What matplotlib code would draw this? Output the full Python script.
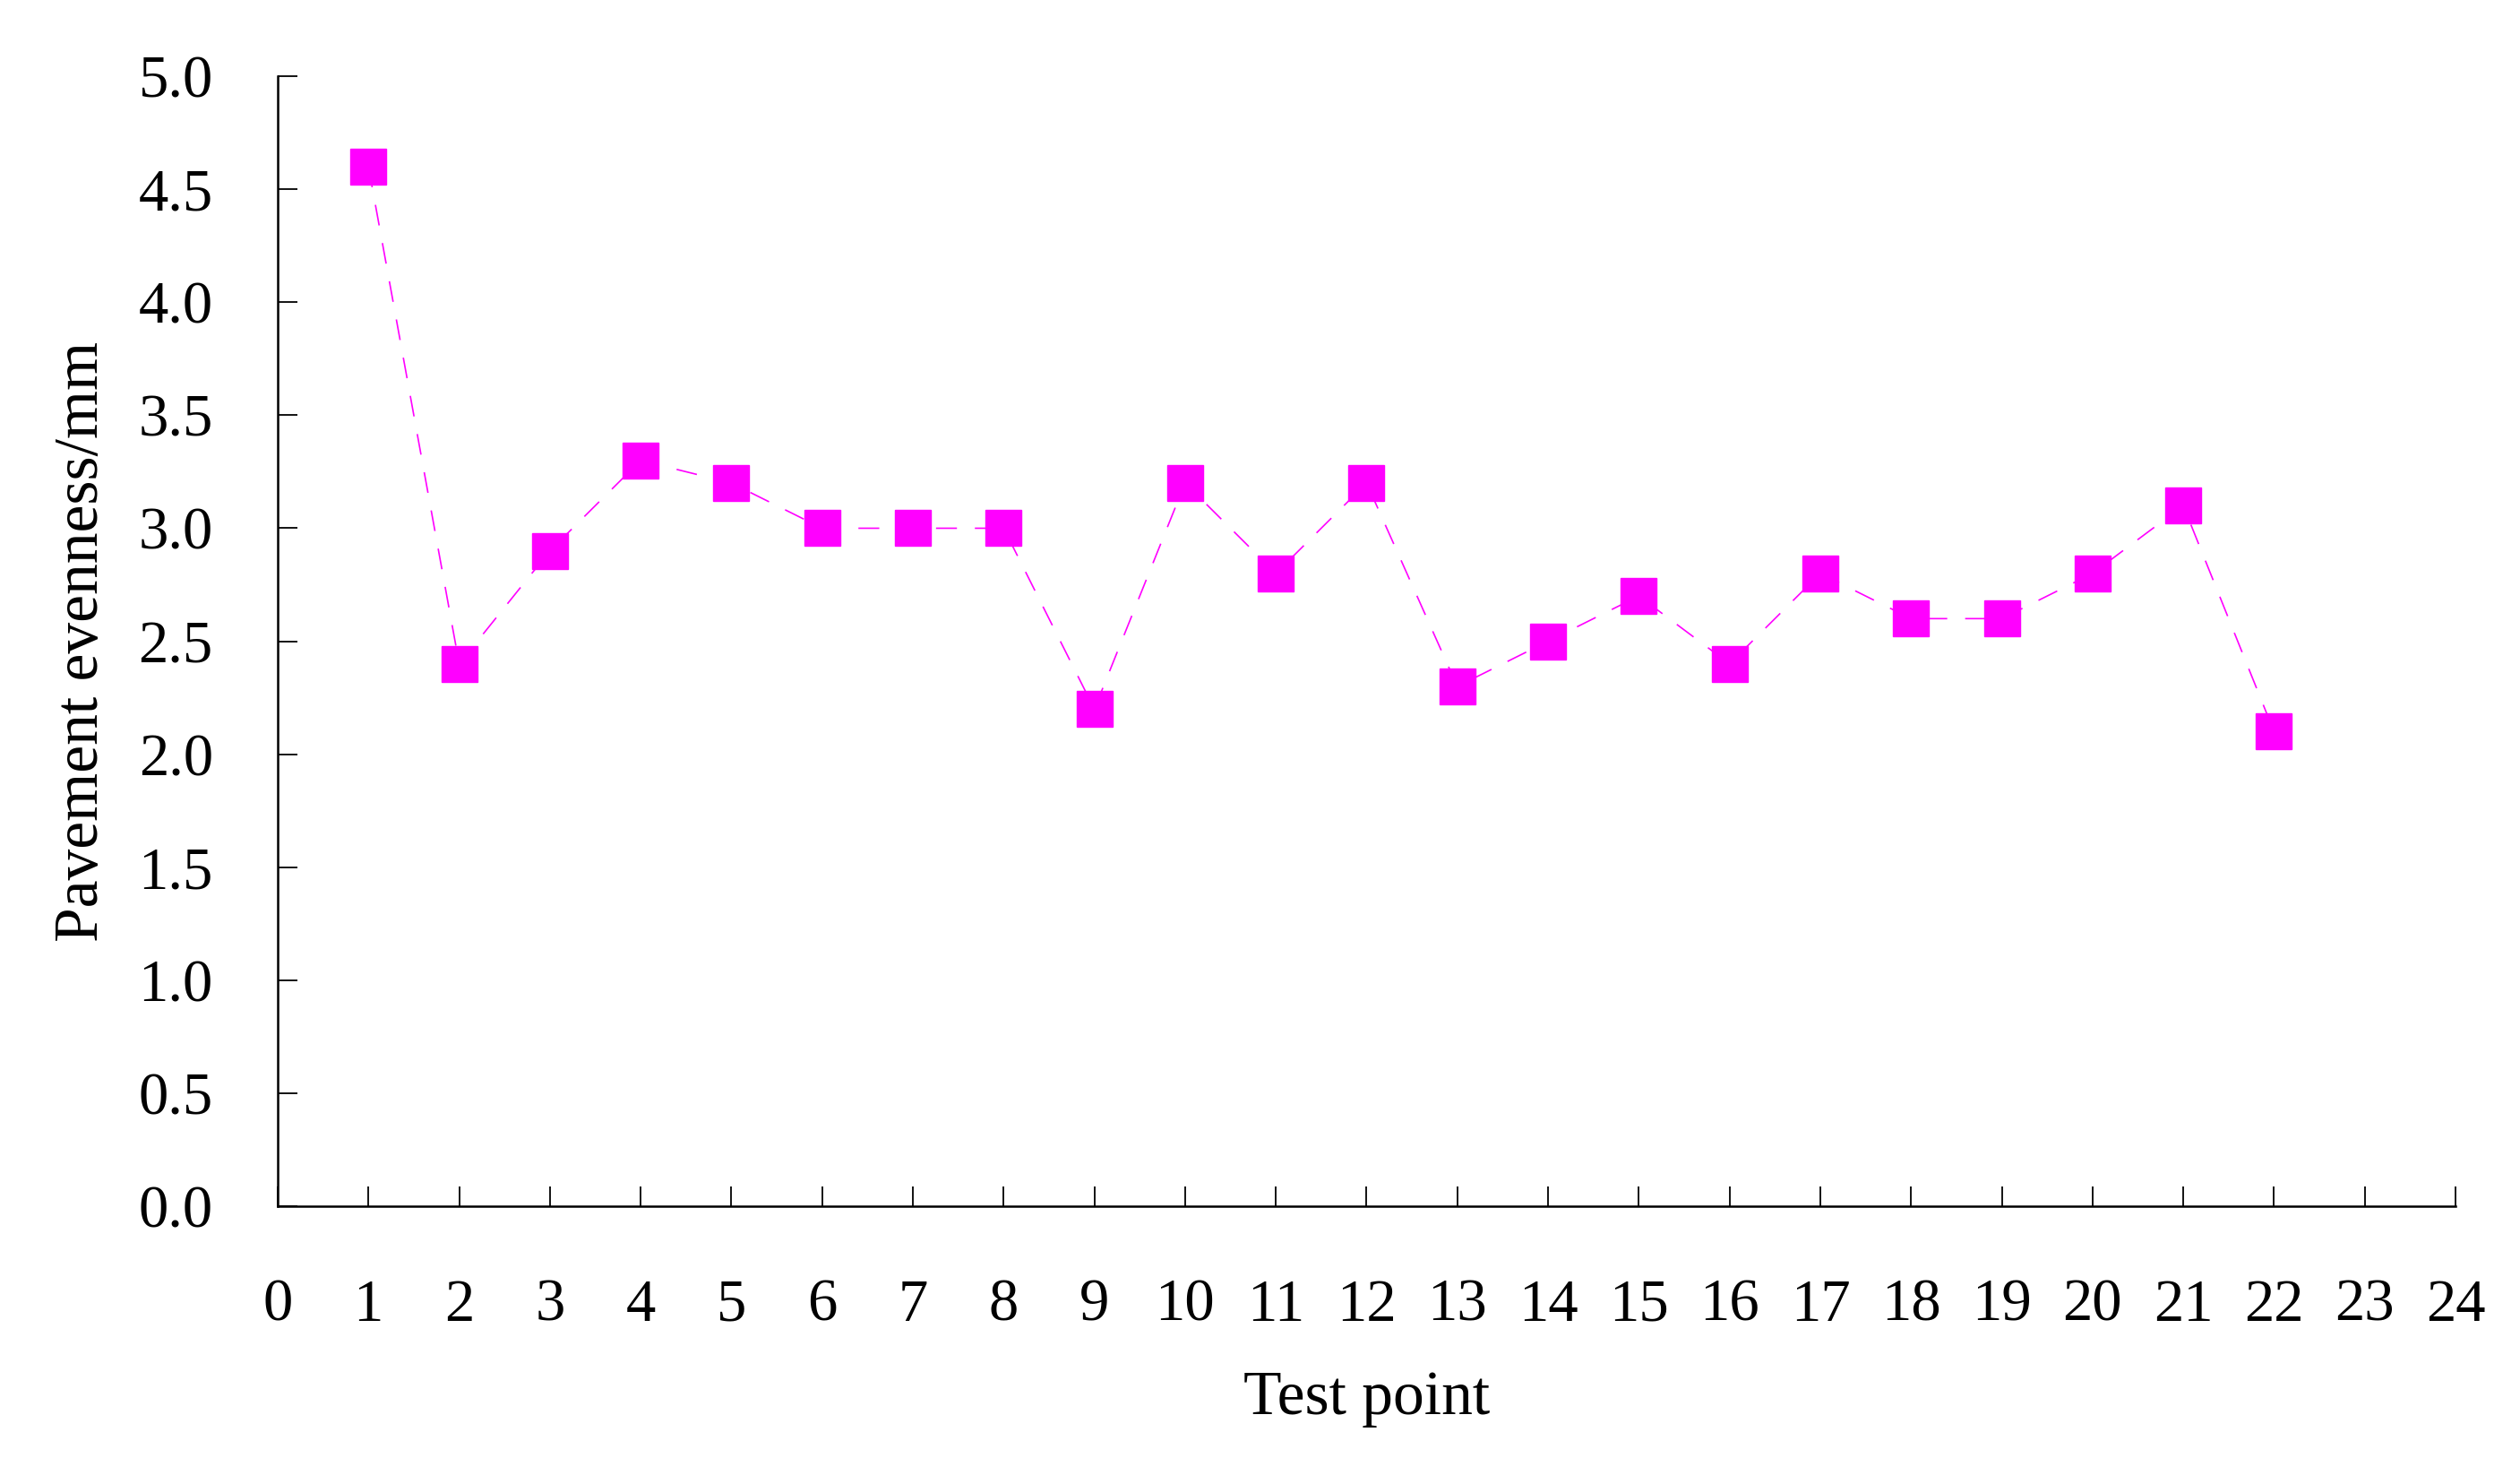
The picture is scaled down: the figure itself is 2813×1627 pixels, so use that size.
import matplotlib
matplotlib.use("Agg")
import matplotlib.pyplot as plt

test_points = [1, 2, 3, 4, 5, 6, 7, 8, 9, 10, 11, 12, 13, 14, 15, 16, 17, 18, 19, 20, 21, 22]
evenness = [4.6, 2.4, 2.9, 3.3, 3.2, 3.0, 3.0, 3.0, 2.2, 3.2, 2.8, 3.2, 2.3, 2.5, 2.7, 2.4, 2.8, 2.6, 2.6, 2.8, 3.1, 2.1]
x_ticks = list(range(0, 25))
y_ticks = [0.0, 0.5, 1.0, 1.5, 2.0, 2.5, 3.0, 3.5, 4.0, 4.5, 5.0]

plt.rcParams['font.family'] = ['Liberation Serif', 'DejaVu Serif']

fig = plt.figure(figsize=(28.13, 16.27), dpi=100)
ax = fig.add_axes([0.1102, 0.1727, 0.8642, 0.7750])

ax.plot(test_points, evenness, color='#FF00FF', linewidth=1.2, dashes=(14, 12),
        marker='s', markersize=29, markerfacecolor='#FF00FF', markeredgecolor='#FF00FF')

ax.set_xlim(0, 24)
ax.set_ylim(0, 5.0)
ax.set_xticks(x_ticks)
ax.set_yticks(y_ticks)
ax.set_yticklabels([f"{v:.1f}" for v in y_ticks])

for s in ['top', 'right']:
    ax.spines[s].set_visible(False)
for s in ['left', 'bottom']:
    ax.spines[s].set_linewidth(1.8)
    ax.spines[s].set_color('black')

ax.tick_params(axis='x', direction='in', length=16, width=1.3, pad=58, labelsize=48)
ax.tick_params(axis='y', direction='in', length=16, width=1.3, pad=52, labelsize=48)

ax.set_xlabel('Test point', fontsize=50, labelpad=30)
ax.set_ylabel('Pavement evenness/mm', fontsize=50, labelpad=22)

fig.savefig('out.png', dpi=100)
